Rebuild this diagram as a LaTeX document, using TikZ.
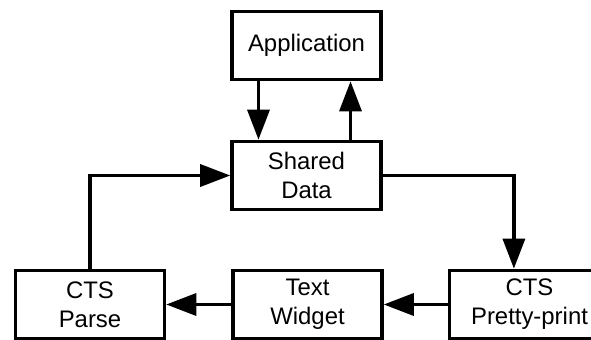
\documentclass[tikz,border=0pt]{standalone}
\usepackage{fontspec}
\setmainfont{Liberation Sans}
\usetikzlibrary{arrows.meta,positioning}

\begin{document}
\begin{tikzpicture}[x=0.025cm,y=-0.025cm,
  box/.style={draw,line width=2.6pt,minimum width=3.72cm,minimum height=1.7cm,align=center,inner sep=0pt,font=\fontsize{17}{20.5}\selectfont},
  arr/.style={line width=2.4pt,-{Triangle[length=0.75cm,width=0.55cm]}}]
\useasboundingbox (0,0) rectangle (591,340);
\clip (0,0) rectangle (591,340);
\node[box] (app) at (306.5,45.5) {Application};
\node[box] (data) at (306.5,175.5) {Shared\\Data};
\node[box] (parse) at (90,304.5) {CTS\\Parse};
\node[box] (widget) at (307.5,304.5) {Text\\Widget};
\node[box,minimum width=4cm] (pretty) at (529.5,304.5) {CTS\\Pretty-print};
\draw[arr] ([xshift=-1.2cm]app.south) -- ([xshift=-1.2cm]data.north);
\draw[arr] ([xshift=1.1cm]data.north) -- ([xshift=1.1cm]app.south);
\draw[arr] (parse.north) |- (data.west);
\draw[arr] (data.east) -| ([xshift=-0.39cm]pretty.north);
\draw[arr] (pretty.west) -- (widget.east);
\draw[arr] (widget.west) -- (parse.east);
\end{tikzpicture}
\end{document}
